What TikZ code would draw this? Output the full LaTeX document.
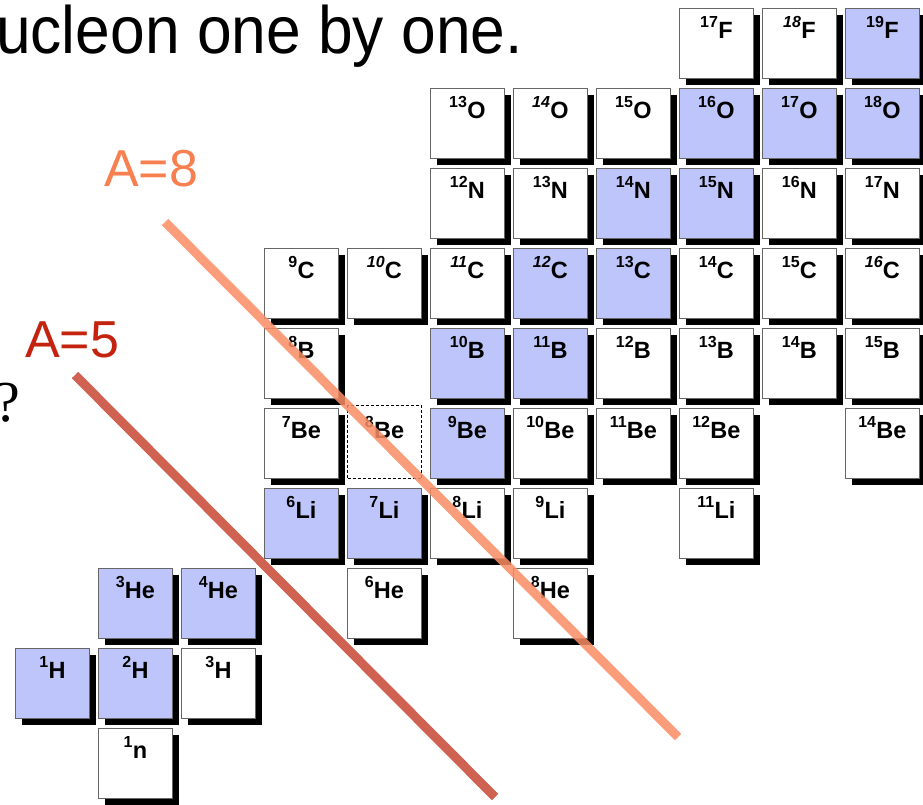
\documentclass[tikz,border=0pt]{standalone}
\usepackage{fontspec}
\setmainfont{Liberation Sans}
\newfontfamily\qserif{Liberation Serif}
\usetikzlibrary{shadows}
\definecolor{stab}{RGB}{190,197,250}
\definecolor{aeight}{RGB}{248,128,80}
\definecolor{afive}{RGB}{195,35,15}
\definecolor{leight}{RGB}{250,140,100}
\definecolor{lfive}{RGB}{200,70,50}
\newcommand\iso[2]{{\fontsize{16}{16}\selectfont\raisebox{10.5pt}{#1}}\kern0.3pt{\fontsize{23.5}{23.5}\selectfont #2}}
\newcommand\nuc[6]{%
  \node[nbox, fill=#4] (#1) at ({15+83*#2},#3) {};
  \node[lab] (#1-t) at ([yshift=-30pt]#1.north) {\iso{#5}{#6}};
}
\tikzset{
  nbox/.style={draw=black!60, line width=0.8pt, minimum width=74pt, minimum height=70pt,
    anchor=north west, inner sep=0pt,
    drop shadow={shadow xshift=7pt, shadow yshift=-7pt, fill=black, opacity=1}},
  dbox/.style={draw=black, line width=1pt, dash pattern=on 3pt off 2pt, fill=white,
    minimum width=74pt, minimum height=73pt, anchor=north west, inner sep=0pt},
  lab/.style={anchor=base, inner sep=0pt, font=\bfseries},
  big/.style={anchor=base west, inner sep=0pt, font=\fontsize{52}{52}\selectfont},
  aline/.style={line width=9pt, opacity=0.85}
}
\begin{document}
\begin{tikzpicture}[x=1pt, y=-1pt]
\useasboundingbox (0,0) rectangle (923,804);
\clip (0,0) rectangle (923,804);
% title
\node[anchor=base west, inner sep=0pt, xscale=0.93, font=\fontsize{67}{67}\selectfont] (title) at (-4,53) {ucleon one by one.};
% row n
\nuc{n1}{1}{728}{white}{1}{n}
% row H
\nuc{H1}{0}{648}{stab}{1}{H}
\nuc{H2}{1}{648}{stab}{2}{H}
\nuc{H3}{2}{648}{white}{3}{H}
% row He
\nuc{He3}{1}{568}{stab}{3}{He}
\nuc{He4}{2}{568}{stab}{4}{He}
\nuc{He6}{4}{568}{white}{6}{He}
\nuc{He8}{6}{568}{white}{8}{He}
% row Li
\nuc{Li6}{3}{488}{stab}{6}{Li}
\nuc{Li7}{4}{488}{stab}{7}{Li}
\nuc{Li8}{5}{488}{white}{8}{Li}
\nuc{Li9}{6}{488}{white}{9}{Li}
\nuc{Li11}{8}{488}{white}{11}{Li}
% row Be
\nuc{Be7}{3}{408}{white}{7}{Be}
\node[dbox] (Be8) at (347,405) {};
\node[lab] (Be8-t) at ([yshift=-33pt]Be8.north) {\iso{8}{Be}};
\nuc{Be9}{5}{408}{stab}{9}{Be}
\nuc{Be10}{6}{408}{white}{10}{Be}
\nuc{Be11}{7}{408}{white}{11}{Be}
\nuc{Be12}{8}{408}{white}{12}{Be}
\nuc{Be14}{10}{408}{white}{14}{Be}
% row B
\nuc{B8}{3}{328}{white}{8}{B}
\nuc{B10}{5}{328}{stab}{10}{B}
\nuc{B11}{6}{328}{stab}{11}{B}
\nuc{B12}{7}{328}{white}{12}{B}
\nuc{B13}{8}{328}{white}{13}{B}
\nuc{B14}{9}{328}{white}{14}{B}
\nuc{B15}{10}{328}{white}{15}{B}
% row C
\nuc{C9}{3}{248}{white}{9}{C}
\nuc{C10}{4}{248}{white}{\itshape 10}{C}
\nuc{C11}{5}{248}{white}{\itshape 11}{C}
\nuc{C12}{6}{248}{stab}{\itshape 12}{C}
\nuc{C13}{7}{248}{stab}{13}{C}
\nuc{C14}{8}{248}{white}{14}{C}
\nuc{C15}{9}{248}{white}{15}{C}
\nuc{C16}{10}{248}{white}{\itshape 16}{C}
% row N
\nuc{N12}{5}{168}{white}{12}{N}
\nuc{N13}{6}{168}{white}{13}{N}
\nuc{N14}{7}{168}{stab}{14}{N}
\nuc{N15}{8}{168}{stab}{15}{N}
\nuc{N16}{9}{168}{white}{16}{N}
\nuc{N17}{10}{168}{white}{17}{N}
% row O
\nuc{O13}{5}{88}{white}{13}{O}
\nuc{O14}{6}{88}{white}{\itshape 14}{O}
\nuc{O15}{7}{88}{white}{15}{O}
\nuc{O16}{8}{88}{stab}{16}{O}
\nuc{O17}{9}{88}{stab}{17}{O}
\nuc{O18}{10}{88}{stab}{18}{O}
% row F
\nuc{F17}{8}{8}{white}{17}{F}
\nuc{F18}{9}{8}{white}{\itshape 18}{F}
\nuc{F19}{10}{8}{stab}{19}{F}
% labels
\node[big, text=aeight] (a8) at (104,186) {A=8};
\node[big, text=afive] (a5) at (25,357) {A=5};
\node[anchor=base west, inner sep=0pt, font=\qserif\fontsize{58}{58}\selectfont] (q) at (-6,421) {?};
% lines
\coordinate (e8s) at (165,222);
\coordinate (e8e) at (678,737);
\coordinate (e5s) at (75,375);
\coordinate (e5e) at (495,797);
\draw[aline, leight] (e8s) -- (e8e);
\draw[aline, lfive] (e5s) -- (e5e);
\end{tikzpicture}
\end{document}
